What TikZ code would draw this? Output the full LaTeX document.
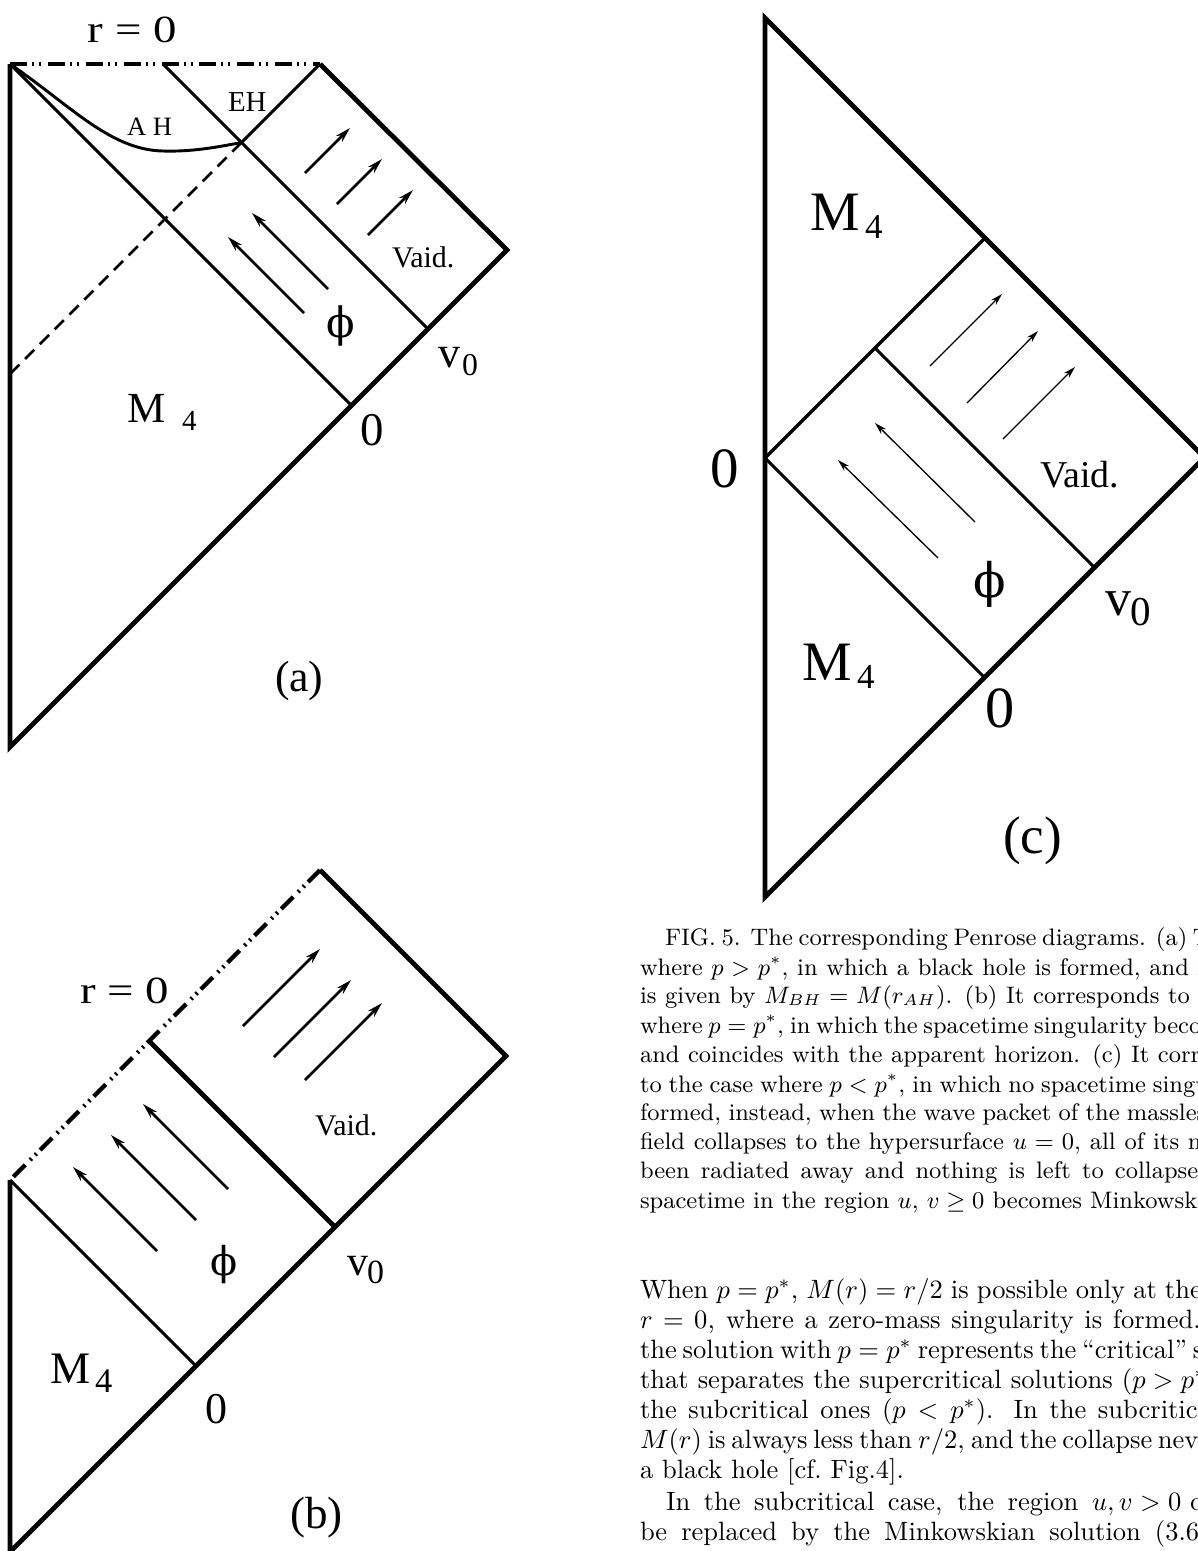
\documentclass[tikz,border=0pt]{standalone}
\usepackage{fontspec}
\newfontfamily\tms{Liberation Serif}
\newfontfamily\djv{DejaVu Serif}
\usetikzlibrary{arrows.meta}
\newdimen\pxunit
\pxunit=0.37736pt
\newcommand\jl[2]{\hbox to #1\pxunit{#2}}
\newcommand\tf[1]{\tms\fontsize{#1}{#1}\selectfont}
\newcommand\phf[1]{\djv\fontsize{#1}{#1}\selectfont}
\begin{document}
\begin{tikzpicture}[x=0.37736pt, y=-0.37736pt,
 outer/.style={line width=1.8pt, line join=miter},
 thinl/.style={line width=1.1pt},
 midl/.style={line width=1.25pt},
 arr/.style={line width=0.95pt, -{Stealth[length=5.8pt,width=3.2pt]}},
 arrc/.style={line width=0.5pt, -{Stealth[length=4.6pt,width=2.6pt]}},
 sing/.style={line width=1.6pt, dash pattern=on 6.4pt off 1.9pt on 0.75pt off 1.9pt on 0.75pt off 2.6pt},
 dsh/.style={line width=1pt, dash pattern=on 4.9pt off 3pt},
 lbl/.style={inner sep=0pt, outer sep=0pt, anchor=base west},
 phl/.style={inner sep=0pt, outer sep=0pt, anchor=center},
 captxt/.style={inner sep=0pt, outer sep=0pt, anchor=base west, font=\fontsize{9}{11}\selectfont},
 bodytxt/.style={inner sep=0pt, outer sep=0pt, anchor=base west, font=\fontsize{10}{12}\selectfont},
]
\useasboundingbox (0,0) rectangle (1198,1551);
\fill[white] (0,0) rectangle (1198,1551);
\clip (0,0) rectangle (1198,1551);

% ---------------- (a) ----------------
\coordinate (aTL) at (10,64);
\coordinate (aTR) at (320,64);
\coordinate (aR) at (507,250);
\coordinate (aB) at (10,747);
\coordinate (aV) at (428,329);
\coordinate (aO) at (351.5,405.5);
\coordinate (aEHt) at (163,64);
\coordinate (aX) at (241.5,142.5);
\coordinate (aDl) at (10,374);
\coordinate (aAHm) at (163,151);

\draw[outer] (aTR) -- (aR) -- (aB) -- (aTL);
\draw[sing] (aTL) -- (aTR);
\draw[thinl] (aTL) -- (aO);
\draw[thinl] (aEHt) -- (aV);
\draw[thinl] (aX) -- (aTR);
\draw[dsh] (aX) -- (aDl);
\draw[thinl] (aTL) .. controls (70,105) and (110,150) .. (aAHm)
              .. controls (195,152) and (222,146) .. (aX);

\coordinate (aoa1) at (305,173); \coordinate (aob1) at (350,128);
\coordinate (aoa2) at (337,204); \coordinate (aob2) at (382,159);
\coordinate (aoa3) at (368,235); \coordinate (aob3) at (413,190);
\coordinate (aia1) at (328,289); \coordinate (aib1) at (252,213);
\coordinate (aia2) at (304,313); \coordinate (aib2) at (228,237);
\draw[arr] (aoa1) -- (aob1);
\draw[arr] (aoa2) -- (aob2);
\draw[arr] (aoa3) -- (aob3);
\draw[arr] (aia1) -- (aib1);
\draw[arr] (aia2) -- (aib2);

\node[lbl, font=\tf{14.5}] (aR0) at (88,42) {\scalebox{1.22}[1]{r = 0}};
\node[lbl, font=\tf{10.9}] (aEH) at (228,111) {EH};
\node[lbl, font=\tf{10}] (aAH) at (127,135) {A H};
\node[lbl, font=\tf{11.3}] (aVd) at (392,267) {Vaid.};
\node[phl, font=\phf{15.8}] (aPhi) at (341,326) {ϕ};
\node[lbl, font=\tf{16.6}] (aVv) at (438,367) {v};
\node[lbl, font=\tf{12}] (aVs) at (462,375) {0};
\node[lbl, font=\tf{16.2}] (aM) at (127,422) {M};
\node[lbl, font=\tf{11}] (aM4) at (182,430) {4};
\node[lbl, font=\tf{17.7}] (aZ) at (360,445) {0};
\node[lbl, font=\tf{16.5}] (aCap) at (275,691) {(a)};

% ---------------- (b) ----------------
\coordinate (bTR) at (320,870);
\coordinate (bR) at (506,1056);
\coordinate (bB) at (10,1552);
\coordinate (bL) at (10,1180);
\coordinate (bO) at (196,1366);
\coordinate (bV) at (335,1227);
\coordinate (bX) at (149,1041);

\draw[outer] (bL) -- (bB) -- (bR) -- (bTR);
\draw[sing] (bTR) -- (bL);
\draw[thinl] (bL) -- (bO);
\draw[outer] (bX) -- (bV);

\coordinate (boa1) at (243,1026); \coordinate (bob1) at (320,949);
\coordinate (boa2) at (274,1057); \coordinate (bob2) at (351,980);
\coordinate (boa3) at (305,1080); \coordinate (bob3) at (382,1003);
\coordinate (bia1) at (228,1189); \coordinate (bib1) at (143,1104);
\coordinate (bia2) at (196,1220); \coordinate (bib2) at (111,1135);
\coordinate (bia3) at (157,1251); \coordinate (bib3) at (73,1167);
\draw[arr] (boa1) -- (bob1);
\draw[arr] (boa2) -- (bob2);
\draw[arr] (boa3) -- (bob3);
\draw[arr] (bia1) -- (bib1);
\draw[arr] (bia2) -- (bib2);
\draw[arr] (bia3) -- (bib3);

\node[lbl, font=\tf{14.5}] (bR0) at (80,1003) {\scalebox{1.22}[1]{r = 0}};
\node[lbl, font=\tf{11.3}] (bVd) at (315,1135) {Vaid.};
\node[phl, font=\phf{15}] (bPhi) at (224,1265) {ϕ};
\node[lbl, font=\tf{15.8}] (bVv) at (347,1275) {v};
\node[lbl, font=\tf{12.8}] (bVs) at (367,1283) {0};
\node[lbl, font=\tf{17}] (bM) at (50,1383) {M};
\node[lbl, font=\tf{13}] (bM4) at (95,1392) {4};
\node[lbl, font=\tf{16.6}] (bZ) at (205,1423) {0};
\node[lbl, font=\tf{17}] (bCap) at (290,1528) {(b)};

% ---------------- (c) ----------------
\coordinate (cTL) at (765,18);
\coordinate (cBL) at (765,897);
\coordinate (cR) at (1204.5,457.5);
\coordinate (cO) at (765,458);
\coordinate (cA) at (985,238);
\coordinate (cZ) at (984.5,677.5);
\coordinate (cB) at (875,348);
\coordinate (cV) at (1094.5,567.5);

\draw[outer] (cBL) -- (cTL) -- (cR) -- cycle;
\draw[midl] (cO) -- (cA);
\draw[thinl] (cO) -- (cZ);
\draw[thinl] (cB) -- (cV);

\coordinate (coa1) at (930,366); \coordinate (cob1) at (1002,294);
\coordinate (coa2) at (967,403); \coordinate (cob2) at (1038,331);
\coordinate (coa3) at (1003,439); \coordinate (cob3) at (1075,367);
\coordinate (cia1) at (975,522); \coordinate (cib1) at (875,423);
\coordinate (cia2) at (938,558); \coordinate (cib2) at (838,460);
\draw[arrc] (coa1) -- (cob1);
\draw[arrc] (coa2) -- (cob2);
\draw[arrc] (coa3) -- (cob3);
\draw[arrc] (cia1) -- (cib1);
\draw[arrc] (cia2) -- (cib2);

\node[lbl, font=\tf{21}] (cMu) at (810,230) {M};
\node[lbl, font=\tf{13.2}] (cMu4) at (865,238) {4};
\node[lbl, font=\tf{21}] (cMl) at (802,680) {M};
\node[lbl, font=\tf{13.2}] (cMl4) at (857,688) {4};
\node[lbl, font=\tf{21.5}] (cZl) at (710,487) {0};
\node[lbl, font=\tf{14.3}] (cVd) at (1040,487) {Vaid.};
\node[phl, font=\phf{18}] (cPhi) at (990,584) {ϕ};
\node[lbl, font=\tf{19.6}] (cVv) at (1105,615) {v};
\node[lbl, font=\tf{15.5}] (cVs) at (1130,625) {0};
\node[lbl, font=\tf{22}] (cZb) at (985,727) {0};
\node[lbl, font=\tf{20}] (cCap) at (1003,853) {(c)};

% ---------------- caption ----------------
\node[captxt] (cap1) at (665,945) {\jl{528}{FIG.~5. The corresponding Penrose diagrams. (a)\ }The case};
\node[captxt] (cap2) at (640,975) {\jl{549}{where $p > p^{*}$, in which a black hole is formed, and}\ its mass};
\node[captxt] (cap3) at (640,1003) {\jl{550}{is given by $M_{BH} = M(r_{AH})$. (b) It corresponds to}\ the case};
\node[captxt] (cap4) at (640,1033) {\jl{513}{where $p = p^{*}$, in which the spacetime singularity\ }becomes null};
\node[captxt] (cap5) at (640,1062) {\jl{518}{and coincides with the apparent horizon. (c) It\ }corresponds};
\node[captxt] (cap6) at (640,1092) {\jl{513}{to the case where $p < p^{*}$, in which no spacetime\ }singularity is};
\node[captxt] (cap7) at (640,1120) {\jl{487}{formed, instead, when the wave packet of the\ }massless scalar};
\node[captxt] (cap8) at (640,1149) {\jl{548}{field collapses to the hypersurface $u = 0$, all of its\ }mass has};
\node[captxt] (cap9) at (640,1178) {\jl{475}{been radiated away and nothing is left to\ }collapse. Thus the};
\node[captxt] (cap10) at (640,1208) {spacetime in the region $u$, $v \geq 0$ becomes Minkowskian.};

% ---------------- body ----------------
\node[bodytxt] (bt1) at (640,1298) {\jl{525}{When $p = p^{*}$, $M(r) = r/2$ is possible only at\ }the center};
\node[bodytxt] (bt2) at (640,1328) {\jl{473}{$r = 0$, where a zero-mass singularity is\ }formed. Thus,};
\node[bodytxt] (bt3) at (640,1358) {\jl{553}{the solution with $p = p^{*}$ represents the ``critical''\ }solution};
\node[bodytxt] (bt4) at (640,1388) {\jl{482}{that separates the supercritical solutions\ }($p > p^{*}$) and};
\node[bodytxt] (bt5) at (640,1418) {\jl{458}{the subcritical ones ($p < p^{*}$). In the\ }subcritical case,};
\node[bodytxt] (bt6) at (640,1448) {\jl{518}{$M(r)$ is always less than $r/2$, and the collapse\ }never forms};
\node[bodytxt] (bt7) at (640,1478) {a black hole [cf.~Fig.4].};
\node[bodytxt] (bt8) at (666,1510) {\jl{426}{In the subcritical case, the region\ }$u, v > 0$ can};
\node[bodytxt] (bt9) at (640,1540) {\jl{515}{be replaced by the Minkowskian solution\ }(3.6)};
\end{tikzpicture}
\end{document}
